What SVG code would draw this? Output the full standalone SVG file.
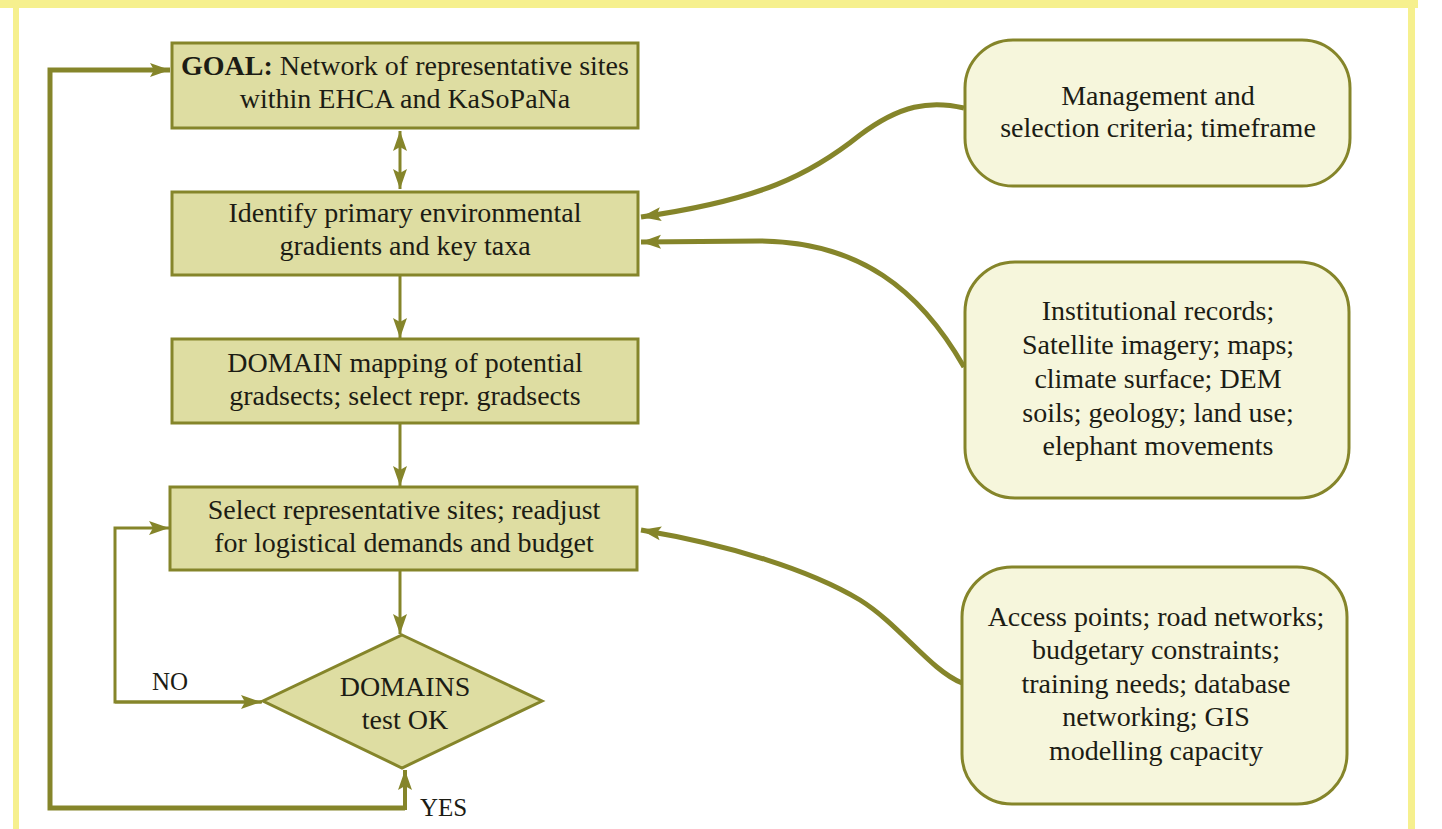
<svg xmlns="http://www.w3.org/2000/svg" width="1442" height="829" viewBox="0 0 1442 829">
<style>
.frame{fill:#f6f08e}
.box{fill:#dedda2;stroke:#85852a;stroke-width:3}
.src{fill:#f6f6dc;stroke:#85852a;stroke-width:3}
.t{font-family:"Liberation Serif","Times New Roman",serif;font-size:28px;fill:#1c1c14;text-anchor:middle}
.lbl{font-family:"Liberation Serif","Times New Roman",serif;font-size:25px;fill:#1c1c14}
.c{fill:none;stroke:#85852a;stroke-linecap:butt;stroke-linejoin:miter}
.w3{stroke-width:3}
.w4{stroke-width:4}
.w5{stroke-width:5}
</style>
<defs>
<marker id="ah" markerUnits="userSpaceOnUse" markerWidth="22" markerHeight="16" refX="20" refY="7" orient="auto" overflow="visible">
<path d="M0,0 L20,7 L0,14 L4,7 z" fill="#85852a"/>
</marker>
<marker id="ahs" markerUnits="userSpaceOnUse" markerWidth="22" markerHeight="16" refX="0" refY="7" orient="auto" overflow="visible">
<path d="M20,0 L0,7 L20,14 L16,7 z" fill="#85852a"/>
</marker>
</defs>
<rect width="1442" height="829" fill="#ffffff"/>
<g id="frame">
<rect class="frame" x="0" y="0" width="1418" height="8"/>
<rect class="frame" x="13" y="0" width="6" height="829"/>
<rect class="frame" x="1408" y="0" width="7" height="829"/>
</g>
<g id="connectors">
<path class="c w3" d="M400,131 L400,189" marker-start="url(#ahs)" marker-end="url(#ah)"/>
<path class="c w3" d="M400,275 L400,338" marker-end="url(#ah)"/>
<path class="c w3" d="M400,423 L400,486" marker-end="url(#ah)"/>
<path class="c w3" d="M400,570 L400,634" marker-end="url(#ah)"/>
<path class="c w3" d="M262,702 L115,702 L115,528 L169,528" marker-end="url(#ah)"/>
<path class="c w3" d="M115,702 L261,702" marker-end="url(#ah)"/>
<path class="c w5" d="M405,808 L50,808 L50,70 L170,70" marker-end="url(#ah)"/>
<path class="c w4" d="M405,810 L405,770" marker-end="url(#ah)"/>
<path class="c w5" d="M964,108 C930,100 900,105 860,135 C810,175 760,200 641,217" marker-end="url(#ah)"/>
<path class="c w5" d="M964,367 C920,290 860,242 760,241 L641,242" marker-end="url(#ah)"/>
<path class="c w5" d="M962,683 C930,670 900,625 860,600 C810,570 730,545 641,530" marker-end="url(#ah)"/>
</g>
<g id="goal">
<rect class="box" x="172" y="43" width="466" height="85"/>
<text class="t" x="405" y="75" font-size="27.5"><tspan font-weight="bold">GOAL:</tspan> Network of representative sites</text>
<text class="t" x="405" y="108">within EHCA and KaSoPaNa</text>
</g>
<g id="identify">
<rect class="box" x="172" y="192" width="466" height="83"/>
<text class="t" x="405" y="222">Identify primary environmental</text>
<text class="t" x="405" y="255">gradients and key taxa</text>
</g>
<g id="domain">
<rect class="box" x="172" y="339" width="466" height="84"/>
<text class="t" x="405" y="372">DOMAIN mapping  of potential</text>
<text class="t" x="405" y="405">gradsects; select repr. gradsects</text>
</g>
<g id="select">
<rect class="box" x="170" y="487" width="467" height="83"/>
<text class="t" x="404" y="519">Select representative sites; readjust</text>
<text class="t" x="404" y="552">for logistical demands and budget</text>
</g>
<g id="test">
<polygon class="box" points="402,635 542,701 402,768 263,701"/>
<text class="t" x="405" y="696">DOMAINS</text>
<text class="t" x="405" y="729">test OK</text>
</g>
<g id="labels">
<text class="lbl" x="152" y="690">NO</text>
<text class="lbl" x="420" y="816">YES</text>
</g>
<g id="criteria">
<rect class="src" x="965" y="40" width="385" height="146" rx="48" ry="48"/>
<text class="t" x="1158" y="105">Management and</text>
<text class="t" x="1158" y="137">selection criteria; timeframe</text>
</g>
<g id="data">
<rect class="src" x="965" y="262" width="384" height="236" rx="50" ry="50"/>
<text class="t" x="1158" y="320">Institutional records;</text>
<text class="t" x="1158" y="354">Satellite imagery; maps;</text>
<text class="t" x="1158" y="388">climate surface; DEM</text>
<text class="t" x="1158" y="422">soils; geology; land use;</text>
<text class="t" x="1158" y="455">elephant movements</text>
</g>
<g id="logistics">
<rect class="src" x="962" y="567" width="385" height="237" rx="50" ry="50"/>
<text class="t" x="1156" y="626">Access points; road networks;</text>
<text class="t" x="1156" y="659">budgetary constraints;</text>
<text class="t" x="1156" y="693">training needs; database</text>
<text class="t" x="1156" y="726">networking; GIS</text>
<text class="t" x="1156" y="760">modelling capacity</text>
</g>
</svg>
